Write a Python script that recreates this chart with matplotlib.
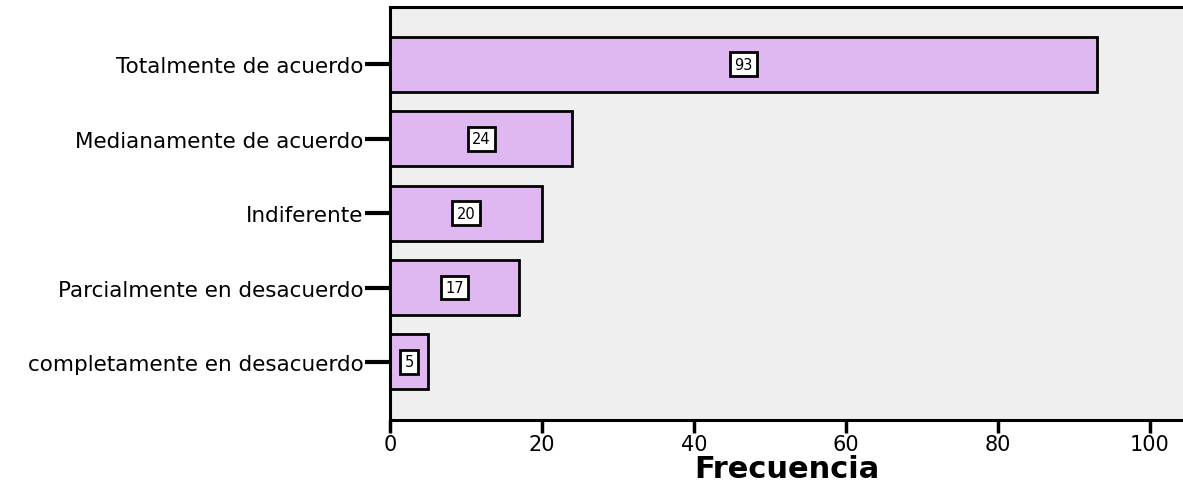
import matplotlib
matplotlib.use("Agg")
import matplotlib.pyplot as plt

categories = [
    "Totalmente de acuerdo",
    "Medianamente de acuerdo",
    "Indiferente",
    "Parcialmente en desacuerdo",
    "completamente en desacuerdo",
]
frecuencias = [93, 24, 20, 17, 5]
xticks = [0, 20, 40, 60, 80, 100]

plt.rcParams["font.family"] = ["DejaVu Sans"]

fig = plt.figure(figsize=(11.83, 4.85), dpi=100)
ax = fig.add_axes([390 / 1183, 1 - 421 / 485, 1 - 390 / 1183 + 0.001, (421 - 8) / 485])
ax.set_facecolor("#efefef")

ypos = list(range(len(categories)))
ax.barh(ypos, frecuencias, height=0.74, color="#dfb8f2", edgecolor="black",
        linewidth=2, zorder=2)

for y, v in zip(ypos, frecuencias):
    ax.text(v / 2, y, str(v), ha="center", va="center", fontsize=10.5,
            bbox=dict(boxstyle="square,pad=0.3", fc="white", ec="black", lw=2),
            zorder=3)

ax.set_ylim(len(categories) - 1 + 0.78, -0.77)
ax.set_xlim(0, 104.5)
ax.set_yticks(ypos)
ax.set_yticklabels(categories, fontsize=15.5)
ax.set_xticks(xticks)
ax.set_xticklabels([str(t) for t in xticks], fontsize=15)
ax.tick_params(axis="both", direction="out", width=2.5, length=9, color="black",
               pad=1)
ax.tick_params(axis="y", length=18, width=3, pad=1)

for side in ["left", "bottom", "top"]:
    ax.spines[side].set_linewidth(2.2)
    ax.spines[side].set_color("black")
ax.spines["right"].set_visible(False)

ax.set_xlabel("Frecuencia", fontsize=22, fontweight="bold", labelpad=0)

fig.savefig("out.png", dpi=100)
